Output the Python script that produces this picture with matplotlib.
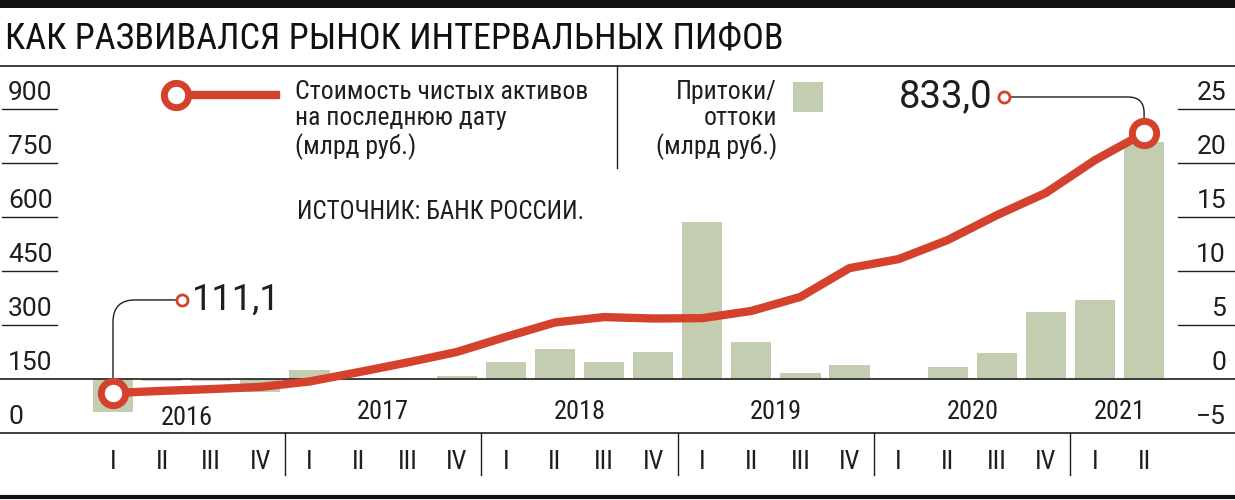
import numpy as np
import matplotlib.pyplot as plt
from matplotlib import transforms, font_manager
from matplotlib.lines import Line2D
from matplotlib.patches import Rectangle

# narrow sans font, first one that is installed
installed = {f.name for f in font_manager.fontManager.ttflist}
narrow = [f for f in ["Roboto Condensed", "PT Sans Narrow",
                      "IBM Plex Sans Condensed"] if f in installed]
plt.rcParams['font.family'] = narrow[:1] + ['DejaVu Sans']
WIDE = ['Roboto', 'Liberation Sans', 'DejaVu Sans']

# data
quarters = ["I", "II", "III", "IV"] * 5 + ["I", "II"]
years = ["2016", "2017", "2018", "2019", "2020", "2021"]
year_quarters = [4, 4, 4, 4, 4, 2]
# net asset value, bn rub (left scale)
nav = [111.1, 117, 122, 128, 143, 169, 196, 225, 267, 307, 322, 318,
       319, 339, 378, 458, 483, 536, 605, 667, 758, 833.0]
# inflows / outflows, bn rub (right scale)
flows = [-3.1, -0.2, -0.2, -1.2, 0.8, 0, 0, 0.3, 1.6, 2.8, 1.6, 2.5,
         14.5, 3.4, 0.55, 1.3, 0, 1.1, 2.4, 6.2, 7.3, 21.9]
left_ticks = [0, 150, 300, 450, 600, 750, 900]
right_ticks = [-5, 0, 5, 10, 15, 20, 25]

RED = "#d4412c"
GREEN = "#c3cdb0"
INK = "#1e1e1e"

W, H = 1235, 500


def fx(px):
    return px / W


def fy(py):
    return 1 - py / H


fig = plt.figure(figsize=(W / 100, H / 100), dpi=100)

ax = fig.add_axes([0, fy(433), 1, (433 - 66) / H])
ax2 = ax.twinx()
x = np.arange(len(nav))

ax.set_xlim(-113 / 49.1, (W - 113) / 49.1)
ax.set_ylim(-5, 28.98)
ax2.set_ylim(0, 1019.4)

for a in (ax, ax2):
    a.set_xticks([])
    a.set_yticks([])
    for s in a.spines.values():
        s.set_visible(False)
for side in ("top", "bottom"):
    ax.spines[side].set_visible(True)
    ax.spines[side].set_color(INK)
    ax.spines[side].set_linewidth(1.2)

# bars
ax.bar(x, flows, width=0.82, color=GREEN, zorder=2)
ax.axhline(0, color=INK, lw=1.2, zorder=3)

# tick labels with short underlines
lt = transforms.blended_transform_factory(ax.transAxes, ax2.transData)
for v in left_ticks:
    ax2.text(fx(8), v + 11, str(v), transform=lt, ha="left", va="bottom",
             fontsize=19, color=INK, family=WIDE)
    if v > 150:
        ax2.axhline(v, xmin=fx(2), xmax=fx(57), color=INK, lw=1)
rt = transforms.blended_transform_factory(ax.transAxes, ax.transData)
for v in right_ticks:
    lab = str(v).replace("-", "\u2212")
    ax.text(fx(1226), v + 0.35, lab, transform=rt, ha="right", va="bottom",
            fontsize=19, color=INK, family=WIDE)
    if v > 0:
        ax.axhline(v, xmin=fx(1178), xmax=1, color=INK, lw=1)

# line
ax2.plot(x, nav, color=RED, lw=6, solid_joinstyle="round",
         solid_capstyle="round", zorder=4)
ax2.plot(x[[0, -1]], [nav[0], nav[-1]], "o", ms=17.5, mfc="white", mec=RED,
         mew=5, zorder=5)


def callout(i, dx, dy, label, ha, tx, rad, size):
    ax2.annotate("", xy=(x[i], nav[i]), xytext=(dx, dy),
                 textcoords="offset points",
                 arrowprops=dict(arrowstyle="-", color=INK, lw=1,
                                 shrinkA=3, shrinkB=11,
                                 connectionstyle=f"angle,angleA=0,angleB=90,rad={rad}"),
                 zorder=3)
    off = transforms.ScaledTranslation(dx / 72, dy / 72, fig.dpi_scale_trans)
    ax2.plot(x[i], nav[i], "o", ms=8, mfc="white", mec=RED, mew=2,
             transform=ax2.transData + off, zorder=5)
    off2 = transforms.ScaledTranslation((dx + tx) / 72, dy / 72,
                                        fig.dpi_scale_trans)
    ax2.text(x[i], nav[i], label, transform=ax2.transData + off2, ha=ha,
             va="center", fontsize=size, color=INK, family=WIDE)


callout(0, 49.7, 67, "111,1", "left", 7, 22, 26)
callout(len(nav) - 1, -100.8, 26, "833,0", "right", -8, 16, 27.5)

# quarter and year labels under the plot
bt = transforms.blended_transform_factory(ax.transData, ax.transAxes)
for i, q in enumerate(quarters):
    ax.text(x[i], -0.079, q, transform=bt, ha="center", va="center",
            fontsize=19, color=INK)
start = 0
for k, (yr, n) in enumerate(zip(years, year_quarters)):
    ax.text(np.mean(x[start:start + n]), 0.04 if k == 0 else 0.057, yr,
            transform=bt, ha="center", va="center", fontsize=19, color=INK)
    if k > 0:
        ax.plot([start - 0.5, start - 0.5], [0, -0.114], transform=bt,
                color=INK, lw=1, clip_on=False)
    start += n

# frame: title, rules, legend
fig.add_artist(Rectangle((0, fy(8)), 1, 8 / H, transform=fig.transFigure,
                         color="#111111", lw=0))
title = fig.text(fx(5), fy(38), "КАК РАЗВИВАЛСЯ РЫНОК ИНТЕРВАЛЬНЫХ ПИФОВ",
                 fontsize=30, va="center", ha="left", color="#111111")
# fit the title to the width it has in the source
tw = title.get_window_extent(fig.canvas.get_renderer()).width
title.set_fontsize(30 * 778 / tw)

fig.add_artist(Line2D([0, 1], [fy(497), fy(497)], transform=fig.transFigure,
                      color="#111111", lw=3))
fig.add_artist(Line2D([fx(617), fx(617)], [fy(66), fy(168)],
                      transform=fig.transFigure, color=INK, lw=1))

fig.add_artist(Line2D([fx(176), fx(276)], [fy(95), fy(95)],
                      transform=fig.transFigure, color=RED, lw=6,
                      marker="o", ms=17.5, mfc="white", mec=RED, mew=5,
                      markevery=[0]))
fig.text(fx(295), fy(80), "Стоимость чистых активов\nна последнюю дату\n(млрд руб.)",
         fontsize=18.5, va="top", ha="left", linespacing=1.12, color=INK)
fig.add_artist(Rectangle((fx(793), fy(112)), 30 / W, 30 / H,
                         transform=fig.transFigure, color=GREEN, lw=0))
fig.text(fx(777), fy(80), "Притоки/\nоттоки\n(млрд руб.)", fontsize=18.5,
         va="top", ha="right", multialignment="right", linespacing=1.12,
         color=INK)
fig.text(fx(297), fy(212), "ИСТОЧНИК: БАНК РОССИИ.", fontsize=18,
         va="center", ha="left", color=INK)

fig.savefig("out.png", dpi=100)
